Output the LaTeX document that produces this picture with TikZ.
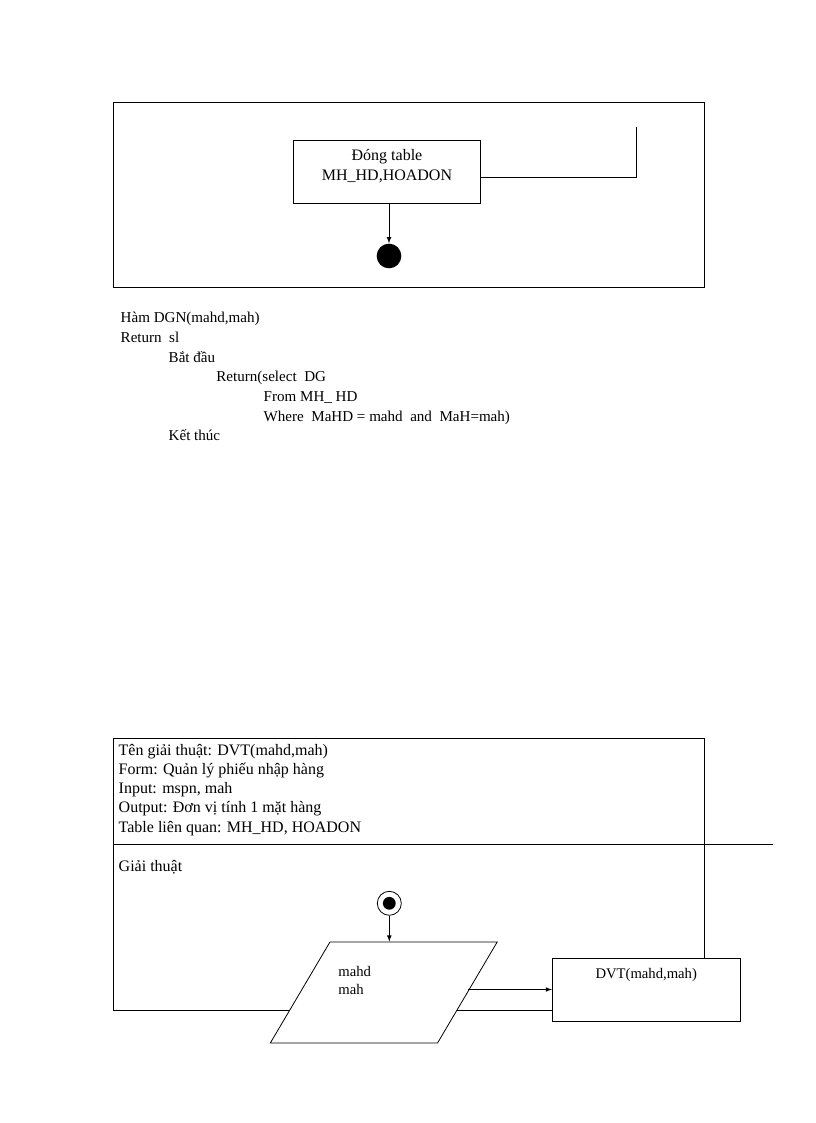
\documentclass[tikz,border=0pt]{standalone}
\usepackage{fontspec}
\setmainfont{Liberation Serif}
\usetikzlibrary{shapes.geometric}

\begin{document}
\begin{tikzpicture}[
    x=0.75pt, y=-0.75pt,
    line width=0.6pt,
    box/.style={draw, rectangle, fill=white, inner sep=2pt},
    iobox/.style={draw, trapezium, trapezium left angle=61, trapezium right angle=119,
        trapezium stretches=true, minimum width=170.25pt, minimum height=75.75pt, fill=white},
    hdr/.style={anchor=base west, inner sep=0pt, font=\fontsize{12}{14.5}\selectfont},
    code/.style={anchor=base west, inner sep=0pt, font=\fontsize{11.3}{14}\selectfont},
    startnode/.style={circle, draw, minimum size=18pt, inner sep=0pt,
        path picture={\fill (path picture bounding box.center) circle (4.8pt);}},
    endnode/.style={circle, fill=black, minimum size=18.5pt, inner sep=0pt},
    >=latex
]
    \useasboundingbox (0,0) rectangle (816,1123);

    % Upper frame with the closing step
    \draw (113,102) rectangle (704,287);
    \node[box, minimum width=140.5pt, minimum height=47pt, align=center, text depth=11pt,
        font=\fontsize{12}{15}\selectfont] (close) at (387,172) {Đóng table\\MH\_HD,HOADON};
    \node[endnode] (finish) at (389,256) {};
    \coordinate (loopturn) at (636.7,177.7);
    \coordinate (loopend) at (636.7,126.7);

    \draw[->] (close.south -| finish) -- (finish);
    \draw (close.east |- loopturn) -- (loopturn) -- (loopend);

    % Function DGN
    \node[code] (dgnname) at (120.3,322.7) {Hàm DGN(mahd,mah)};
    \node[code] (dgnret) at (120.3,342.4) {Return\ \ sl};
    \node[code] (dgnbegin) at (168.3,362.1) {Bắt đầu};
    \node[code] (dgnselect) at (216,381.8) {Return(select\ \ DG};
    \node[code] (dgnfrom) at (263.3,401.5) {From MH\_ HD};
    \node[code] (dgnwhere) at (263.3,421.2) {Where\ \ MaHD = mahd\ \ and\ \ MaH=mah)};
    \node[code] (dgnend) at (168.3,440.9) {Kết thúc};

    % Lower frame: header of algorithm DVT
    \coordinate (frametl) at (113,738);
    \coordinate (frametr) at (704,738);
    \coordinate (framebl) at (113,1010);
    \coordinate (divl) at (113,844);
    \coordinate (divr) at (773,844);

    \node[hdr] (hdrname) at (118.3,755) {Tên giải thuật: DVT(mahd,mah)};
    \node[hdr] (hdrform) at (118.3,774.3) {Form: Quản lý phiếu nhập hàng};
    \node[hdr] (hdrinput) at (118.3,793.3) {Input: mspn, mah};
    \node[hdr] (hdroutput) at (118.3,812.7) {Output: Đơn vị tính 1 mặt hàng};
    \node[hdr] (hdrtable) at (118.3,832.3) {Table liên quan: MH\_HD, HOADON};
    \node[hdr] (hdralgo) at (118.3,871) {Giải thuật};

    % Flow of DVT
    \node[box, minimum width=140.8pt, minimum height=47.25pt, text depth=24pt,
        font=\fontsize{11}{13}\selectfont] (dvt) at (646.2,989.5) {DVT(mahd,mah)};

    \draw (frametl) -- (frametr) -- (frametr |- dvt.north);
    \draw (frametl) -- (framebl) -- (framebl -| dvt.west);
    \draw (divl) -- (divr);

    \node[iobox] (input) at (383.75,992.5) {};
    \node[code, font=\fontsize{11}{13}\selectfont] (inmahd) at (338,976) {mahd};
    \node[code, font=\fontsize{11}{13}\selectfont] (inmah) at (338,994.5) {mah};
    \node[startnode] (start) at (389.3,903.3) {};

    \draw[->] (start) -- (start |- input.north);
    \draw[->] (input.east |- dvt.west) -- (dvt.west);
\end{tikzpicture}
\end{document}
